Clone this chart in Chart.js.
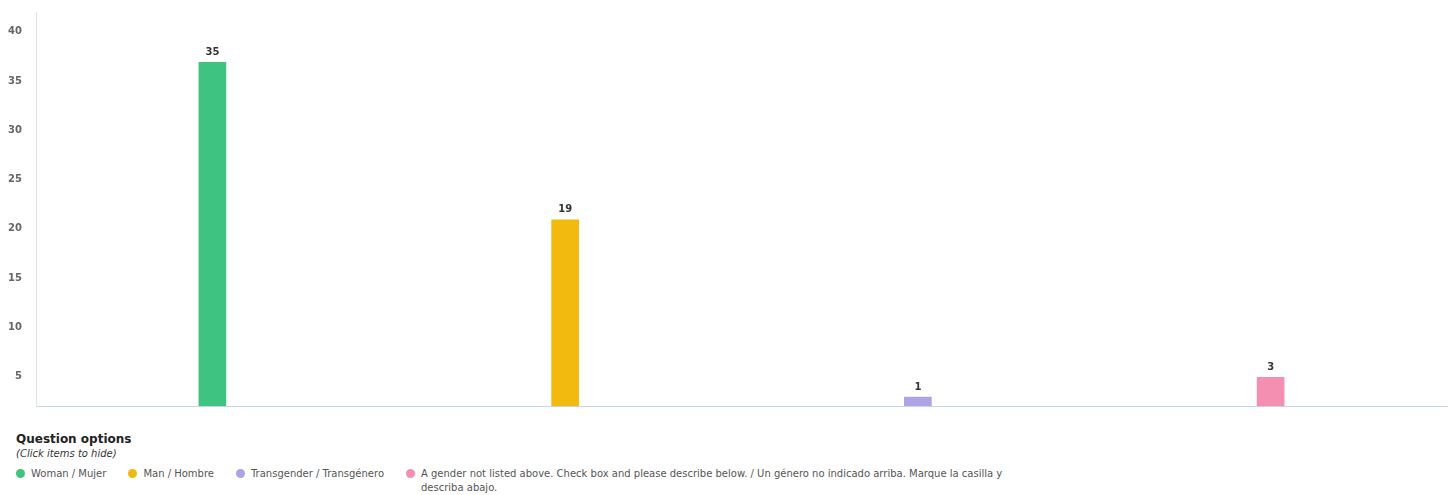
<!DOCTYPE html>
<html>
<head>
<meta charset="utf-8">
<script src="https://cdn.jsdelivr.net/npm/chart.js@4"></script>
<style>
  body { margin: 0; background: #fff; font-family: "DejaVu Sans", sans-serif; }
  #wrap { position: absolute; left: 0; top: 0; width: 1455px; height: 418px; }
  #legend { position: absolute; left: 16px; top: 432px; width: 1420px; color: #555; }
  #legend h4 { margin: 0; font-size: 12px; font-weight: bold; color: #222; line-height: 15px; }
  #legend .hint { font-size: 10px; font-style: italic; color: #333; line-height: 13px; }
  #items { display: flex; align-items: flex-start; margin-top: 7px; font-size: 10px; line-height: 14px; }
  .item { display: flex; align-items: flex-start; margin-right: 22px; cursor: pointer; }
  .dot { width: 9px; height: 9px; border-radius: 50%; margin: 2px 6px 0 0; flex: none; }
  .item.off { opacity: 0.4; }
</style>
</head>
<body>
<div id="wrap"><canvas id="chart"></canvas></div>
<div id="legend">
  <h4>Question options</h4>
  <div class="hint">(Click items to hide)</div>
  <div id="items"></div>
</div>
<script>
const categories = [
  'Woman / Mujer',
  'Man / Hombre',
  'Transgender / Transgénero',
  'A gender not listed above. Check box and please describe below. / Un género no indicado arriba. Marque la casilla y describa abajo.'
];
// counts printed above the bars
const counts = [35, 19, 1, 3];
// bar tops
const barValues = [37, 21, 3, 5];
const colors = ['#3fc380', '#f2b90f', '#ada3e6', '#f48fb1'];
const yTicks = [5, 10, 15, 20, 25, 30, 35, 40];

const valueLabels = {
  id: 'valueLabels',
  afterDatasetsDraw(chart) {
    const ctx = chart.ctx;
    const meta = chart.getDatasetMeta(0);
    ctx.save();
    ctx.font = 'bold 10px "DejaVu Sans", sans-serif';
    ctx.fillStyle = '#333';
    ctx.textAlign = 'center';
    ctx.textBaseline = 'bottom';
    meta.data.forEach((bar, i) => {
      if (chart.getDataVisibility(i) === false) return;
      ctx.fillText(counts[i], bar.x, bar.y - 4);
    });
    ctx.restore();
  }
};

const chart = new Chart(document.getElementById('chart'), {
  type: 'bar',
  data: {
    labels: categories,
    datasets: [{
      data: barValues,
      backgroundColor: colors,
      borderColor: 'rgba(255,255,255,0.5)',
      borderWidth: 1,
      barThickness: 29
    }]
  },
  options: {
    responsive: true,
    maintainAspectRatio: false,
    animation: false,
    layout: { padding: { top: 0, right: 8, bottom: 5, left: 0 } },
    plugins: {
      legend: { display: false },
      tooltip: { enabled: true }
    },
    scales: {
      x: {
        grid: { display: false },
        border: { display: true, color: '#c5d5e4', width: 1 },
        ticks: { display: false },
        afterFit(scale) { scale.height = 0; }
      },
      y: {
        min: 2,
        max: 42,
        afterBuildTicks(scale) {
          scale.ticks = yTicks.map(v => ({ value: v }));
        },
        afterFit(scale) { scale.width = 36; },
        grid: { display: false },
        border: { display: true, color: '#dbe4ee', width: 1 },
        ticks: {
          color: '#666',
          padding: 6,
          font: { family: '"DejaVu Sans", sans-serif', size: 10, weight: 'bold' }
        }
      }
    }
  },
  plugins: [valueLabels]
});

const itemsEl = document.getElementById('items');
categories.forEach((name, i) => {
  const item = document.createElement('div');
  item.className = 'item';
  item.innerHTML = `<span class="dot" style="background:${colors[i]}"></span><span class="txt">${name}</span>`;
  if (i === categories.length - 1) item.querySelector('.txt').style.maxWidth = '590px';
  item.addEventListener('click', () => {
    chart.toggleDataVisibility(i);
    item.classList.toggle('off');
    chart.update();
  });
  itemsEl.appendChild(item);
});
</script>
</body>
</html>
